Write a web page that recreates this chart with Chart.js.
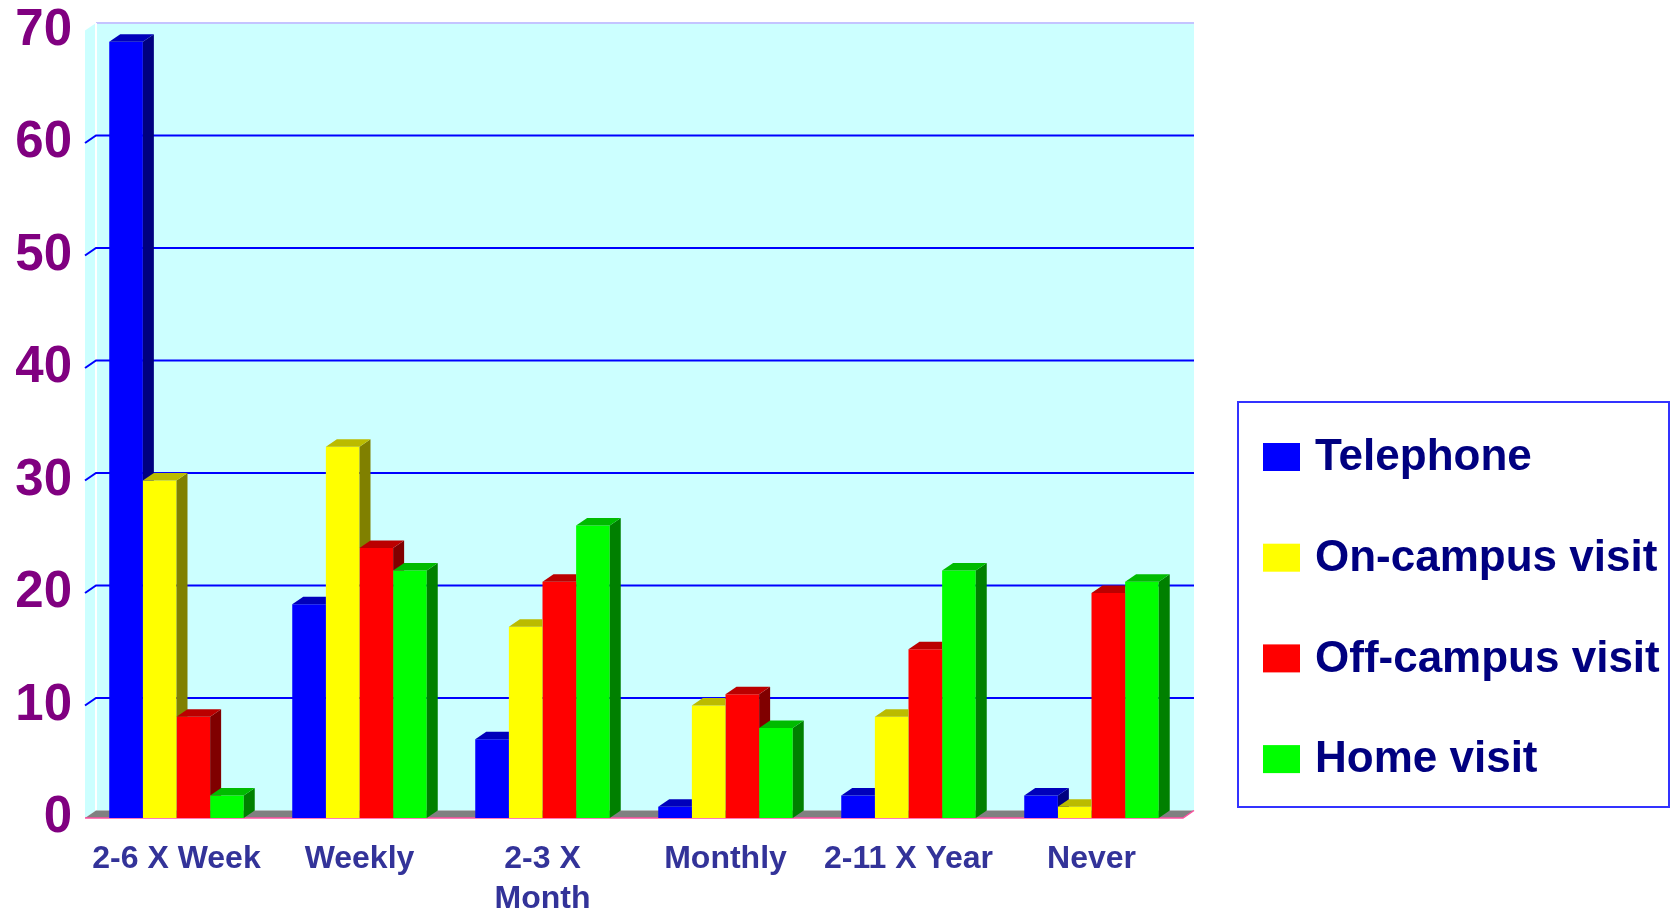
<!DOCTYPE html>
<html lang="en">
<head>
<meta charset="UTF-8">
<title>Contact frequency</title>
<script src="https://cdn.jsdelivr.net/npm/chart.js"></script>
<style>
  body { margin: 0; background: #fff; }
</style>
</head>
<body>
<canvas id="contactChart" width="1672" height="909"></canvas>
<script>
// values
const categories = ['2-6 X Week', 'Weekly', ['2-3 X', 'Month'], 'Monthly', '2-11 X Year', 'Never'];
const seriesNames = ['Telephone', 'On-campus visit', 'Off-campus visit', 'Home visit'];
const telephone = [69, 19, 7, 1, 2, 2];
const onCampus = [30, 33, 17, 10, 9, 1];
const offCampus = [9, 24, 21, 11, 15, 20];
const homeVisit = [2, 22, 26, 8, 22, 21];
const yTicks = [0, 10, 20, 30, 40, 50, 60, 70];

const frontColors = ['#0000ff', '#ffff00', '#ff0000', '#00ff00'];
const sideColors = ['#000080', '#808000', '#800000', '#008000'];
const topColors = ['#0000bb', '#bbbb00', '#bb0000', '#00bb00'];

// depth of the fake 3d
const DX = 11, DY = 7.5;

// wall, floor and grid lines behind the bars
const backdrop = {
    id: 'backdrop',
    beforeDatasetsDraw(chart) {
        const ctx = chart.ctx;
        const { left, right, top, bottom } = chart.chartArea;
        const y = chart.scales.y;
        ctx.save();
        // side wall
        ctx.fillStyle = '#ccffff';
        ctx.beginPath();
        ctx.moveTo(left, top);
        ctx.lineTo(left + DX, top - DY);
        ctx.lineTo(left + DX, bottom - DY);
        ctx.lineTo(left, bottom);
        ctx.closePath();
        ctx.fill();
        // back wall
        ctx.fillRect(left + DX, top - DY, right - left, bottom - top);
        ctx.strokeStyle = '#c4c4ff';
        ctx.lineWidth = 2;
        ctx.beginPath();
        ctx.moveTo(left + DX, top - DY);
        ctx.lineTo(right + DX, top - DY);
        ctx.stroke();
        ctx.strokeStyle = '#ffffff';
        ctx.beginPath();
        ctx.moveTo(left + DX, top - DY);
        ctx.lineTo(left + DX, bottom - DY);
        ctx.stroke();
        // grid
        ctx.strokeStyle = '#0000ff';
        ctx.lineWidth = 2;
        yTicks.forEach(v => {
            if (v === 0 || v === 70) return;
            const py = y.getPixelForValue(v);
            ctx.beginPath();
            ctx.moveTo(left, py);
            ctx.lineTo(left + DX, py - DY);
            ctx.lineTo(right + DX, py - DY);
            ctx.stroke();
        });
        // floor
        ctx.fillStyle = '#808080';
        ctx.beginPath();
        ctx.moveTo(left, bottom);
        ctx.lineTo(left + DX, bottom - DY);
        ctx.lineTo(right + DX, bottom - DY);
        ctx.lineTo(right, bottom);
        ctx.closePath();
        ctx.fill();
        ctx.strokeStyle = '#ff4fa0';
        ctx.lineWidth = 1.5;
        ctx.beginPath();
        ctx.moveTo(left, bottom);
        ctx.lineTo(right, bottom);
        ctx.lineTo(right + DX, bottom - DY);
        ctx.stroke();
        ctx.restore();
    }
};

// side and top faces of each bar
const bars3d = {
    id: 'bars3d',
    afterDatasetsDraw(chart) {
        const ctx = chart.ctx;
        const n = chart.data.datasets.length;
        for (let i = 0; i < n; i++) {
            const meta = chart.getDatasetMeta(i);
            const nextMeta = i < n - 1 ? chart.getDatasetMeta(i + 1) : null;
            meta.data.forEach((bar, j) => {
                const { x, y, base, width } = bar.getProps(['x', 'y', 'base', 'width'], true);
                const l = x - width / 2, r = x + width / 2;
                ctx.save();
                if (nextMeta) {
                    const nb = nextMeta.data[j].getProps(['x', 'y', 'base', 'width'], true);
                    ctx.beginPath();
                    ctx.rect(0, 0, chart.width, chart.height);
                    ctx.rect(nb.x - nb.width / 2, nb.y, nb.width, nb.base - nb.y);
                    ctx.clip('evenodd');
                }
                ctx.fillStyle = sideColors[i];
                ctx.beginPath();
                ctx.moveTo(r, y);
                ctx.lineTo(r + DX, y - DY);
                ctx.lineTo(r + DX, base - DY);
                ctx.lineTo(r, base);
                ctx.closePath();
                ctx.fill();
                ctx.fillStyle = topColors[i];
                ctx.beginPath();
                ctx.moveTo(l, y);
                ctx.lineTo(l + DX, y - DY);
                ctx.lineTo(r + DX, y - DY);
                ctx.lineTo(r, y);
                ctx.closePath();
                ctx.fill();
                ctx.restore();
            });
        }
    }
};

// boxed legend on the right
const boxLegend = {
    id: 'boxLegend',
    afterDraw(chart) {
        const ctx = chart.ctx;
        ctx.save();
        ctx.strokeStyle = '#3333ff';
        ctx.lineWidth = 2;
        ctx.strokeRect(1238, 402, 431, 405);
        ctx.font = 'bold 44px "Liberation Sans", Arial, sans-serif';
        ctx.textBaseline = 'middle';
        ctx.textAlign = 'left';
        chart.data.datasets.forEach((ds, i) => {
            const cy = 457 + i * 100.7;
            ctx.fillStyle = ds.backgroundColor;
            ctx.fillRect(1263, cy - 14, 37, 28);
            ctx.fillStyle = '#000080';
            ctx.fillText(ds.label, 1315, cy + 1);
        });
        ctx.restore();
    }
};

const seriesData = [telephone, onCampus, offCampus, homeVisit];

new Chart(document.getElementById('contactChart'), {
    type: 'bar',
    data: {
        labels: categories,
        datasets: seriesNames.map((name, i) => ({
            label: name,
            data: seriesData[i],
            backgroundColor: frontColors[i],
            borderWidth: 0,
            barPercentage: 1.0,
            categoryPercentage: 0.735
        }))
    },
    options: {
        responsive: false,
        animation: false,
        layout: { padding: { top: 30.5, right: 489, bottom: 0, left: 0 } },
        plugins: {
            legend: { display: false },
            tooltip: { enabled: false }
        },
        scales: {
            x: {
                grid: { display: false },
                border: { display: false },
                ticks: {
                    color: '#333399',
                    font: { family: '"Liberation Sans", Arial, sans-serif', size: 32, weight: 'bold', lineHeight: 1.25 },
                    padding: 13,
                    maxRotation: 0,
                    autoSkip: false
                },
                afterFit(scale) { scale.height = 91; }
            },
            y: {
                min: 0,
                max: 70,
                grid: { display: false },
                border: { display: false },
                ticks: {
                    stepSize: 10,
                    color: '#800080',
                    font: { family: '"Liberation Sans", Arial, sans-serif', size: 51, weight: 'bold' },
                    padding: 5
                },
                afterFit(scale) {
                    scale.width = 85;
                    scale.paddingTop = 0;
                    scale.paddingBottom = 0;
                }
            }
        }
    },
    plugins: [backdrop, bars3d, boxLegend]
});
</script>
</body>
</html>
